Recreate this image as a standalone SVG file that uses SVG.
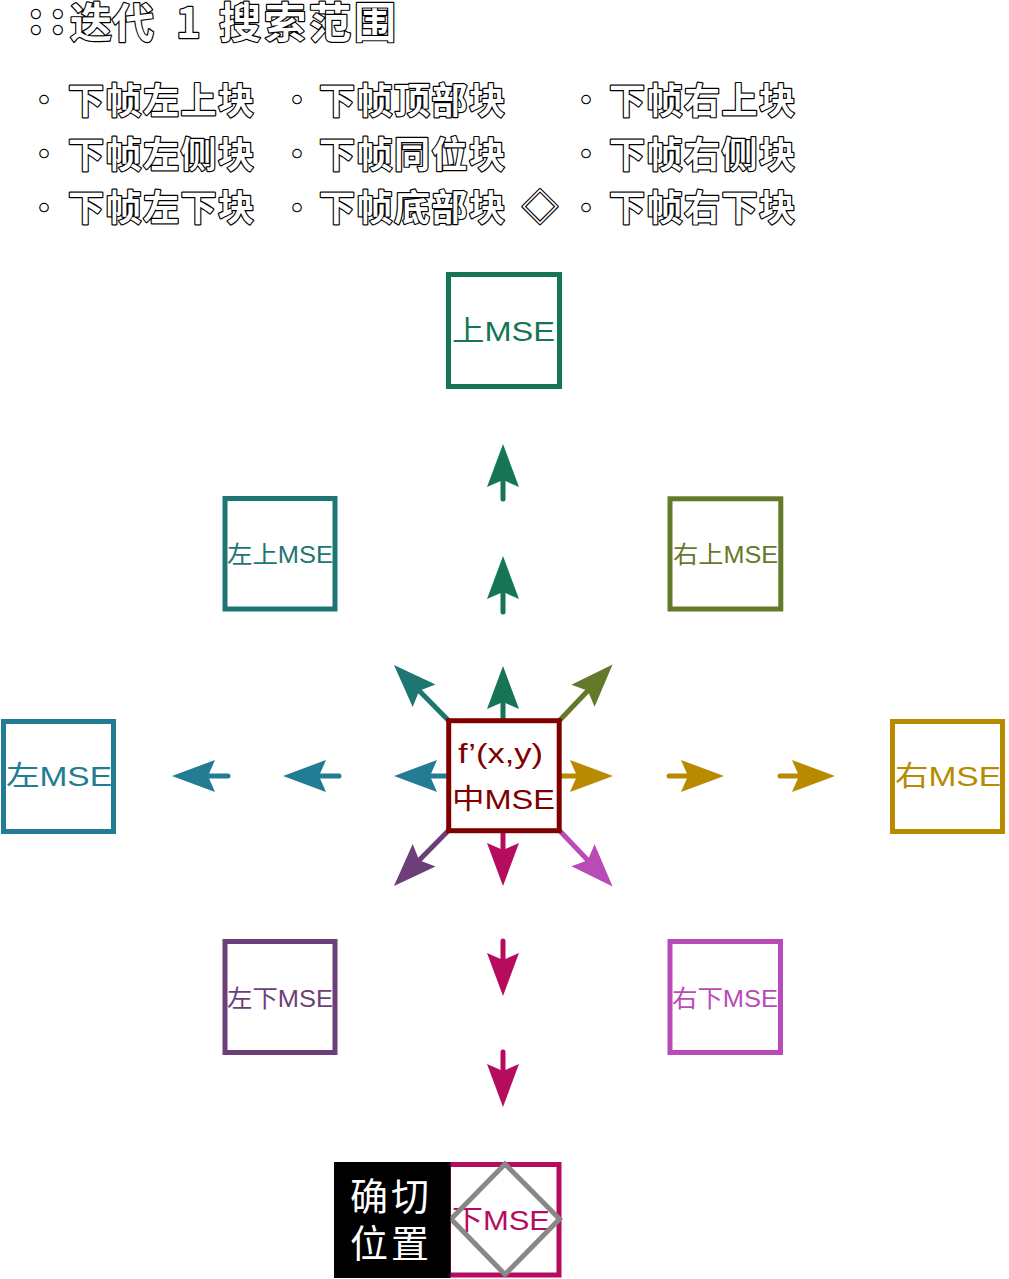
<svg xmlns="http://www.w3.org/2000/svg" width="1009" height="1279" viewBox="0 0 1009 1279">
<style>
.ol{fill:#fff;stroke:#000;stroke-width:2.4;paint-order:stroke;stroke-linejoin:round;font-family:"Noto Sans CJK SC",sans-serif;font-weight:700}
.li{font-size:36px;letter-spacing:1.5px}
.bu{font-size:28px}
.box{fill:#fff;stroke-width:5}
.bt{font-family:"Liberation Sans","Noto Sans CJK SC",sans-serif}
.big{font-size:28px}
.sm{font-size:24px}
.sh{fill:none;stroke-width:5;stroke-linecap:round}
</style>
<defs>
<marker id="m-green" markerUnits="userSpaceOnUse" viewBox="0 0 50 40" markerWidth="50" markerHeight="40" refX="10" refY="20" orient="auto" overflow="visible"><path d="M46,20 L3,4 L10,20 L3,36 Z" fill="#167555"/></marker>
<marker id="m-teal" markerUnits="userSpaceOnUse" viewBox="0 0 50 40" markerWidth="50" markerHeight="40" refX="10" refY="20" orient="auto" overflow="visible"><path d="M46,20 L3,4 L10,20 L3,36 Z" fill="#1e7672"/></marker>
<marker id="m-olive" markerUnits="userSpaceOnUse" viewBox="0 0 50 40" markerWidth="50" markerHeight="40" refX="10" refY="20" orient="auto" overflow="visible"><path d="M46,20 L3,4 L10,20 L3,36 Z" fill="#65792a"/></marker>
<marker id="m-blue" markerUnits="userSpaceOnUse" viewBox="0 0 50 40" markerWidth="50" markerHeight="40" refX="10" refY="20" orient="auto" overflow="visible"><path d="M46,20 L3,4 L10,20 L3,36 Z" fill="#227c93"/></marker>
<marker id="m-gold" markerUnits="userSpaceOnUse" viewBox="0 0 50 40" markerWidth="50" markerHeight="40" refX="10" refY="20" orient="auto" overflow="visible"><path d="M46,20 L3,4 L10,20 L3,36 Z" fill="#b88a00"/></marker>
<marker id="m-purple" markerUnits="userSpaceOnUse" viewBox="0 0 50 40" markerWidth="50" markerHeight="40" refX="10" refY="20" orient="auto" overflow="visible"><path d="M46,20 L3,4 L10,20 L3,36 Z" fill="#6d3f7a"/></marker>
<marker id="m-pink" markerUnits="userSpaceOnUse" viewBox="0 0 50 40" markerWidth="50" markerHeight="40" refX="10" refY="20" orient="auto" overflow="visible"><path d="M46,20 L3,4 L10,20 L3,36 Z" fill="#b84bb5"/></marker>
<marker id="m-mag" markerUnits="userSpaceOnUse" viewBox="0 0 50 40" markerWidth="50" markerHeight="40" refX="10" refY="20" orient="auto" overflow="visible"><path d="M46,20 L3,4 L10,20 L3,36 Z" fill="#b50c5e"/></marker>
</defs>
<rect width="1009" height="1279" fill="#fff"/>

<g id="title">
<text class="ol" font-size="42" y="33"><tspan x="29">:</tspan><tspan x="51">:</tspan></text>
<text class="ol" font-size="42" y="38"><tspan x="70">迭代</tspan><tspan x="176">1</tspan><tspan x="219" letter-spacing="3">搜索范围</tspan></text>
</g>

<g id="legend">
<text class="ol bu" x="30" y="111">•</text>
<text class="ol bu" x="30" y="165">•</text>
<text class="ol bu" x="30" y="219">•</text>
<text class="ol bu" x="283" y="111">•</text>
<text class="ol bu" x="283" y="165">•</text>
<text class="ol bu" x="283" y="219">•</text>
<text class="ol bu" x="572" y="111">•</text>
<text class="ol bu" x="572" y="165">•</text>
<text class="ol bu" x="572" y="219">•</text>
<text class="ol li" x="68" y="114">下帧左上块</text>
<text class="ol li" x="68" y="168">下帧左侧块</text>
<text class="ol li" x="68" y="221">下帧左下块</text>
<text class="ol li" x="319" y="114">下帧顶部块</text>
<text class="ol li" x="319" y="168">下帧同位块</text>
<text class="ol li" x="319" y="221">下帧底部块</text>
<text class="ol li" x="522" y="221">◇</text>
<text class="ol li" x="609" y="114">下帧右上块</text>
<text class="ol li" x="609" y="168">下帧右侧块</text>
<text class="ol li" x="609" y="221">下帧右下块</text>
</g>

<g id="connectors">
<line class="sh" stroke="#167555" x1="503" y1="499" x2="503" y2="480" marker-end="url(#m-green)"/>
<line class="sh" stroke="#167555" x1="503" y1="612" x2="503" y2="592" marker-end="url(#m-green)"/>
<line class="sh" stroke="#167555" x1="503" y1="719" x2="503" y2="702" marker-end="url(#m-green)"/>
<line class="sh" stroke="#227c93" x1="228" y1="776" x2="208" y2="776" marker-end="url(#m-blue)"/>
<line class="sh" stroke="#227c93" x1="339" y1="776" x2="319" y2="776" marker-end="url(#m-blue)"/>
<line class="sh" stroke="#227c93" x1="451" y1="776" x2="430" y2="776" marker-end="url(#m-blue)"/>
<line class="sh" stroke="#b88a00" x1="558" y1="776" x2="577" y2="776" marker-end="url(#m-gold)"/>
<line class="sh" stroke="#b88a00" x1="669" y1="776" x2="688" y2="776" marker-end="url(#m-gold)"/>
<line class="sh" stroke="#b88a00" x1="780" y1="776" x2="799" y2="776" marker-end="url(#m-gold)"/>
<line class="sh" stroke="#b50c5e" x1="503" y1="831" x2="503" y2="850" marker-end="url(#m-mag)"/>
<line class="sh" stroke="#b50c5e" x1="503" y1="941" x2="503" y2="960" marker-end="url(#m-mag)"/>
<line class="sh" stroke="#b50c5e" x1="503" y1="1052" x2="503" y2="1071" marker-end="url(#m-mag)"/>
<line class="sh" stroke="#1e7672" x1="449" y1="721" x2="419.2" y2="690.7" marker-end="url(#m-teal)"/>
<line class="sh" stroke="#65792a" x1="559" y1="721" x2="587.8" y2="690.7" marker-end="url(#m-olive)"/>
<line class="sh" stroke="#6d3f7a" x1="449" y1="830" x2="419.2" y2="860.3" marker-end="url(#m-purple)"/>
<line class="sh" stroke="#b84bb5" x1="559" y1="830" x2="587.8" y2="860.3" marker-end="url(#m-pink)"/>
</g>

<g id="node-top">
<rect class="box" stroke="#167555" x="448.5" y="274.5" width="111" height="112"/>
<text class="bt big" fill="#167555" x="452" y="341" textLength="103" lengthAdjust="spacingAndGlyphs">上MSE</text>
</g>
<g id="node-topleft">
<rect class="box" stroke="#1e7672" x="225" y="498.5" width="110" height="110.5"/>
<text class="bt sm" fill="#1e7672" x="227" y="563" textLength="106" lengthAdjust="spacingAndGlyphs">左上MSE</text>
</g>
<g id="node-topright">
<rect class="box" stroke="#65792a" x="670" y="498.8" width="110.8" height="110.2"/>
<text class="bt sm" fill="#65792a" x="673" y="563" textLength="105" lengthAdjust="spacingAndGlyphs">右上MSE</text>
</g>
<g id="node-left">
<rect class="box" stroke="#227c93" x="3.5" y="721.5" width="110" height="110"/>
<text class="bt big" fill="#227c93" x="6" y="786" textLength="106" lengthAdjust="spacingAndGlyphs">左MSE</text>
</g>
<g id="node-right">
<rect class="box" stroke="#b88a00" x="892.5" y="721.5" width="110" height="110"/>
<text class="bt big" fill="#b88a00" x="895" y="786" textLength="106" lengthAdjust="spacingAndGlyphs">右MSE</text>
</g>
<g id="node-center">
<rect class="box" stroke="#800000" x="448.7" y="720.7" width="110.5" height="110"/>
<text class="bt big" fill="#800000" x="458" y="763" textLength="85" lengthAdjust="spacingAndGlyphs">f’(x,y)</text>
<text class="bt big" fill="#800000" x="452" y="809" textLength="103" lengthAdjust="spacingAndGlyphs">中MSE</text>
</g>
<g id="node-bottomleft">
<rect class="box" stroke="#6d3f7a" x="225" y="941.5" width="110" height="111"/>
<text class="bt sm" fill="#6d3f7a" x="227" y="1007" textLength="106" lengthAdjust="spacingAndGlyphs">左下MSE</text>
</g>
<g id="node-bottomright">
<rect class="box" stroke="#b84bb5" x="670" y="941.5" width="110.5" height="111"/>
<text class="bt sm" fill="#b84bb5" x="672" y="1007" textLength="106" lengthAdjust="spacingAndGlyphs">右下MSE</text>
</g>
<g id="node-bottom">
<rect class="box" stroke="#b50c5e" x="448.5" y="1164.5" width="110.5" height="110.5"/>
<text class="bt big" fill="#b50c5e" x="452" y="1230" textLength="98" lengthAdjust="spacingAndGlyphs">下MSE</text>
<polygon points="505,1164 559.5,1219 505,1274.5 451,1219" fill="none" stroke="#888" stroke-width="5"/>
</g>
<g id="node-exact">
<rect x="334" y="1162" width="116.5" height="116" fill="#000"/>
<text font-family="Noto Sans CJK SC,sans-serif" font-size="38" fill="#fff" letter-spacing="3" x="350" y="1210">确切</text>
<text font-family="Noto Sans CJK SC,sans-serif" font-size="38" fill="#fff" letter-spacing="3" x="350" y="1257">位置</text>
</g>
</svg>
